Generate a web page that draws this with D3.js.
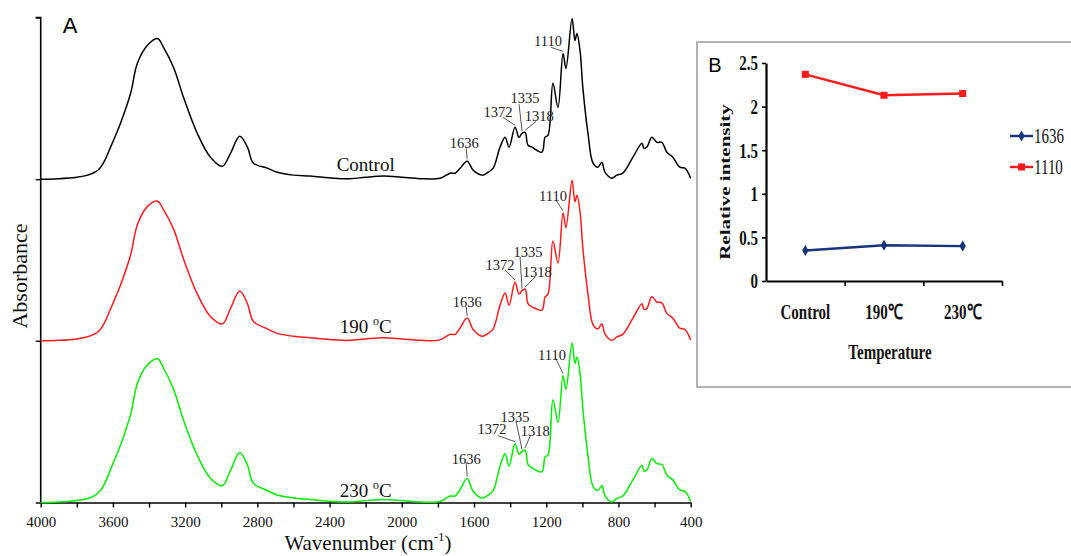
<!DOCTYPE html>
<html>
<head>
<meta charset="utf-8">
<script src="https://cdn.jsdelivr.net/npm/d3@7"></script>
<style>
  body { margin: 0; background: #fff; }
  svg { display: block; }
</style>
</head>
<body>
<svg width="1071" height="556"></svg>
<script>
const wavenumbers = [4000, 3900, 3800, 3750, 3710, 3680, 3650, 3613, 3558, 3502, 3465, 3410,
  3353, 3320, 3264, 3209, 3133, 3060, 2994, 2949, 2898, 2855,
  2822, 2745, 2690, 2600, 2507, 2377, 2286, 2200, 2100, 2000,
  1900, 1788, 1733, 1705, 1677, 1638, 1605, 1555, 1522, 1494,
  1456, 1428, 1406, 1373, 1351, 1334, 1317, 1301, 1279, 1224,
  1207, 1190, 1163, 1135, 1107, 1091, 1057, 1041, 1030, 1013,
  997, 969, 941, 914, 892, 875, 837, 809, 776, 720,
  670, 659, 643, 615, 587, 560, 532, 499, 460, 432, 400];

// absorbance (normalised) for each sample
const absControl = [0, 0.003, 0.012, 0.022, 0.038, 0.058, 0.105, 0.198, 0.346, 0.531, 0.716, 0.827,
  0.870, 0.815, 0.691, 0.506, 0.284, 0.136, 0.080, 0.160, 0.265, 0.198,
  0.099, 0.068, 0.043, 0.025, 0.019, 0.006, 0.003, 0.012, 0.019, 0.012,
  0.003, 0.006, 0.037, 0.037, 0.068, 0.111, 0.056, 0.025, 0.043, 0.068,
  0.198, 0.259, 0.198, 0.321, 0.259, 0.284, 0.290, 0.210, 0.198, 0.167,
  0.259, 0.272, 0.593, 0.444, 0.778, 0.685, 0.994, 0.858, 0.901, 0.796,
  0.562, 0.284, 0.099, 0.074, 0.105, 0.043, 0.006, 0.025, 0.037, 0.136,
  0.222, 0.191, 0.198, 0.259, 0.228, 0.228, 0.167, 0.136, 0.074, 0.068, 0.006];

const abs190 = [0, 0.003, 0.012, 0.022, 0.038, 0.058, 0.105, 0.198, 0.346, 0.531, 0.716, 0.830,
  0.864, 0.812, 0.691, 0.506, 0.290, 0.150, 0.105, 0.200, 0.309, 0.230,
  0.120, 0.074, 0.046, 0.028, 0.019, 0.006, 0.003, 0.012, 0.019, 0.012,
  0.003, 0.006, 0.040, 0.040, 0.080, 0.142, 0.070, 0.028, 0.046, 0.074,
  0.220, 0.296, 0.220, 0.364, 0.290, 0.310, 0.320, 0.230, 0.210, 0.190,
  0.270, 0.290, 0.617, 0.481, 0.790, 0.700, 0.994, 0.860, 0.900, 0.800,
  0.570, 0.290, 0.100, 0.074, 0.105, 0.043, 0.003, 0.025, 0.040, 0.140,
  0.230, 0.195, 0.200, 0.272, 0.240, 0.235, 0.170, 0.140, 0.078, 0.070, 0.006];

const abs230 = [0, 0.003, 0.012, 0.022, 0.038, 0.060, 0.108, 0.205, 0.356, 0.545, 0.735, 0.850,
  0.889, 0.832, 0.700, 0.510, 0.292, 0.150, 0.105, 0.198, 0.309, 0.232,
  0.120, 0.074, 0.046, 0.028, 0.019, 0.006, 0.003, 0.012, 0.019, 0.012,
  0.003, 0.006, 0.040, 0.040, 0.080, 0.148, 0.070, 0.028, 0.046, 0.074,
  0.225, 0.302, 0.225, 0.364, 0.300, 0.315, 0.325, 0.235, 0.215, 0.190,
  0.280, 0.295, 0.636, 0.495, 0.784, 0.700, 0.988, 0.860, 0.900, 0.800,
  0.575, 0.290, 0.100, 0.074, 0.105, 0.043, 0.003, 0.025, 0.040, 0.140,
  0.230, 0.195, 0.200, 0.272, 0.240, 0.235, 0.170, 0.140, 0.078, 0.070, 0.006];

const seriesNames = ["Control", "190 ", "230 "];
const seriesColors = ["#000000", "#ff1a1a", "#00ee00"];
const peakLabels = [1636, 1372, 1335, 1318, 1110];
const xTickValues = d3.range(4000, 399, -200);

// inset B data
const insetCategories = ["Control", "190\u2103", "230\u2103"];
const intensity1636 = [0.35, 0.41, 0.40];
const intensity1110 = [2.37, 2.13, 2.15];
const insetTicks = [0, 0.5, 1, 1.5, 2, 2.5];

// text / leader offsets for the peak labels, per spectrum [textDx, textDy, leaderDx, leaderDy]
const labelOffsets = [
  { 1636: [-3, -18, -1, -13], 1372: [-17, -15, -12, -10], 1335: [3, -35, -3, -29], 1318: [14, -16, 11, -11], 1110: [-15, -12, -12, -6] },
  { 1636: [0, -16, -1, -11], 1372: [-15, -17, -10, -12], 1335: [6, -39, -2, -34], 1318: [12, -17, 10, -12], 1110: [-10, -17, -7, -13] },
  { 1636: [-1, -20, -1, -16], 1372: [-23, -15, -17, -8], 1335: [-7, -35, -6, -30], 1318: [10, -19, 5, -14], 1110: [-11, -21, -7, -17] }
];

const svg = d3.select("svg");

function drawSpectra() {
  const series = [absControl, abs190, abs230];

  const scX = d3.scaleLinear().domain([4000, 400]).range([40.7, 690.7]);
  // three stacked panels: control on top (offset 2), 230 at bottom (offset 0)
  const scY = d3.scaleLinear().domain([0, 3]).range([502.5, 17.5]);

  // left axis
  svg.append("g")
    .attr("transform", "translate(40.7,0)")
    .call(d3.axisLeft(scY).tickValues([0, 1, 2, 3]).tickSize(5).tickFormat(""))
    .call(g => g.select(".domain").attr("stroke-width", 1.6).attr("d", "M-5,17.5H0V502.5"))
    .call(g => g.selectAll(".tick line").attr("stroke-width", 1.4));

  // bottom axis
  const axX = svg.append("g")
    .attr("transform", "translate(0,502.5)")
    .call(d3.axisBottom(scX).tickValues(xTickValues).tickSize(5).tickSizeOuter(0)
      .tickFormat(d => d % 400 === 0 ? d : ""));
  axX.select(".domain").attr("stroke-width", 1.6);
  axX.selectAll(".tick line").attr("stroke-width", 1.4);
  axX.selectAll(".tick text")
    .attr("font-family", "Liberation Serif, Times New Roman, serif")
    .attr("font-size", 15)
    .attr("fill", "#111")
    .attr("dy", "1.1em");

  const line = d3.line()
    .x((d, i) => scX(wavenumbers[i]))
    .curve(d3.curveCatmullRom.alpha(0.5));

  series.forEach((vals, s) => {
    const off = 2 - s;
    svg.append("path")
      .datum(vals)
      .attr("fill", "none")
      .attr("stroke", seriesColors[s])
      .attr("stroke-width", 1.5)
      .attr("stroke-linejoin", "round")
      .attr("d", line.y(d => scY(d + off)));

    // peak annotations
    peakLabels.forEach(p => {
      const idx = d3.minIndex(wavenumbers, w => Math.abs(w - p));
      const px = scX(wavenumbers[idx]);
      const py = scY(vals[idx] + off);
      const o = labelOffsets[s][p];
      svg.append("line")
        .attr("x1", px + o[2]).attr("y1", py + o[3])
        .attr("x2", px).attr("y2", py - 2)
        .attr("stroke", "#555").attr("stroke-width", 1);
      svg.append("text")
        .attr("x", px + o[0]).attr("y", py + o[1])
        .attr("dy", "0.35em")
        .attr("text-anchor", "middle")
        .attr("font-family", "Liberation Serif, Times New Roman, serif")
        .attr("font-size", 14.5)
        .attr("fill", "#222")
        .text(p);
    });

    // series name
    const t = svg.append("text")
      .attr("x", scX(2200))
      .attr("y", scY(off) - (s === 2 ? 6 : 8))
      .attr("text-anchor", "middle")
      .attr("font-family", "Liberation Serif, Times New Roman, serif")
      .attr("font-size", 19)
      .attr("fill", "#111");
    t.append("tspan").text(seriesNames[s]);
    if (s > 0) {
      t.append("tspan").attr("font-size", 12).attr("dy", -8).text("o");
      t.append("tspan").attr("dy", 8).text("C");
    }
  });

  // axis titles
  svg.append("text")
    .attr("transform", "translate(27,276) rotate(-90)")
    .attr("text-anchor", "middle")
    .attr("font-family", "Liberation Serif, Times New Roman, serif")
    .attr("font-size", 22)
    .attr("fill", "#111")
    .text("Absorbance");

  const xt = svg.append("text")
    .attr("x", 368).attr("y", 550)
    .attr("text-anchor", "middle")
    .attr("font-family", "Liberation Serif, Times New Roman, serif")
    .attr("font-size", 21)
    .attr("fill", "#111");
  xt.append("tspan").text("Wavenumber (cm");
  xt.append("tspan").attr("font-size", 13).attr("dy", -9).text("-1");
  xt.append("tspan").attr("dy", 9).text(")");

  svg.append("text")
    .attr("x", 70).attr("y", 33)
    .attr("text-anchor", "middle")
    .attr("font-family", "Liberation Sans, Arial, sans-serif")
    .attr("font-size", 22)
    .text("A");
}

// text stretched vertically like the pasted inset
function insetText(g, x, y, str, opts) {
  return g.append("text")
    .attr("transform", `translate(${x},${y}) scale(1,1.4)` + (opts.rotate ? " rotate(-90)" : ""))
    .attr("text-anchor", opts.anchor || "middle")
    .attr("dy", "0.35em")
    .attr("font-family", "Liberation Serif, Times New Roman, serif")
    .attr("font-weight", opts.bold === false ? "normal" : "bold")
    .attr("font-size", opts.size || 15)
    .attr("fill", "#111")
    .text(str);
}

function drawInset() {
  const g = svg.append("g");

  g.append("rect")
    .attr("x", 697).attr("y", 42)
    .attr("width", 390).attr("height", 345)
    .attr("fill", "#fff")
    .attr("stroke", "#9a9a9a")
    .attr("stroke-width", 1.5);

  const scY = d3.scaleLinear().domain([0, 2.5]).range([281, 63]);
  const scX = d3.scaleBand().domain(insetCategories).range([766, 1002]);
  const scEdge = d3.scaleLinear().domain([0, 3]).range([766, 1002]);

  const ay = g.append("g")
    .attr("transform", "translate(766,0)")
    .call(d3.axisLeft(scY).tickValues(insetTicks).tickSize(4).tickSizeOuter(0).tickFormat(""));
  ay.select(".domain").attr("stroke-width", 2.2);
  ay.selectAll(".tick line").attr("stroke-width", 1.6);

  insetTicks.forEach(v => insetText(g, 758, scY(v), d3.format("")(v), { anchor: "end" }));

  const ax = g.append("g")
    .attr("transform", "translate(0,281)")
    .call(d3.axisBottom(scEdge).tickValues([1, 2, 3]).tickSize(5).tickSizeOuter(0).tickFormat(""));
  ax.select(".domain").attr("stroke-width", 2.2);
  ax.selectAll(".tick line").attr("stroke-width", 1.6);

  insetCategories.forEach(c => insetText(g, scX(c) + scX.bandwidth() / 2, 312, c, {}));

  insetText(g, 890, 352, "Temperature", {});
  insetText(g, 725, 182, "Relative intensity", { rotate: true });

  g.append("text")
    .attr("x", 715).attr("y", 72)
    .attr("text-anchor", "middle")
    .attr("font-family", "Liberation Sans, Arial, sans-serif")
    .attr("font-size", 20)
    .text("B");

  const lines = [
    { name: "1636", vals: intensity1636, color: "#17337a", sym: d3.symbolDiamond, size: 36 },
    { name: "1110", vals: intensity1110, color: "#ff1a1a", sym: d3.symbolSquare, size: 50 }
  ];
  const cx = c => scX(c) + scX.bandwidth() / 2;
  const line = d3.line().x((d, i) => cx(insetCategories[i])).y(d => scY(d));

  lines.forEach((l, k) => {
    g.append("path")
      .datum(l.vals)
      .attr("fill", "none")
      .attr("stroke", l.color)
      .attr("stroke-width", 2.4)
      .attr("d", line);
    g.selectAll(null)
      .data(l.vals)
      .enter()
      .append("path")
      .attr("d", d3.symbol().type(l.sym).size(l.size))
      .attr("transform", (d, i) => `translate(${cx(insetCategories[i])},${scY(d)})`)
      .attr("fill", l.color);

    // legend
    const ly = 136 + k * 31;
    g.append("line")
      .attr("x1", 1010).attr("x2", 1033)
      .attr("y1", ly).attr("y2", ly)
      .attr("stroke", l.color).attr("stroke-width", 2.4);
    g.append("path")
      .attr("d", d3.symbol().type(l.sym).size(l.size))
      .attr("transform", `translate(1021.5,${ly})`)
      .attr("fill", l.color);
    insetText(g, 1034, ly, l.name, { anchor: "start", bold: false });
  });
}

drawSpectra();
drawInset();
</script>
</body>
</html>
